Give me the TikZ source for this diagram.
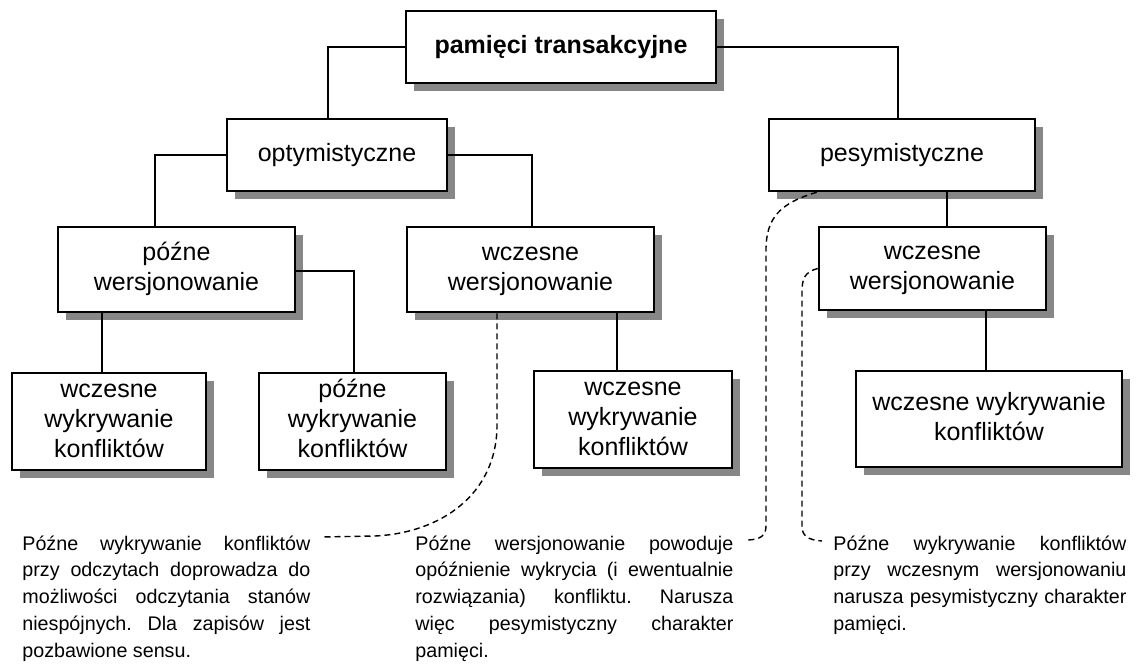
\documentclass[tikz,border=0pt]{standalone}
\usepackage{fontspec}
\setmainfont{Liberation Sans}
\usetikzlibrary{shadows}
\frenchspacing
\newcommand{\bxs}{\rule[-2.8pt]{0pt}{11.8pt}}
\begin{document}
\begin{tikzpicture}[x=0.5pt,y=-0.5pt,
  box/.style={draw=black, line width=1.3pt, fill=white, rectangle, inner sep=2pt,
    align=center, font=\fontsize{12.5}{15}\selectfont,
    drop shadow={shadow xshift=4pt, shadow yshift=-4pt, fill=black!47, opacity=1}},
  link/.style={line width=1pt},
  note/.style={dashed, dash pattern=on 3pt off 2pt, line width=0.7pt},
  para/.style={inner sep=0pt, anchor=base west, align=justify,
    font=\fontsize{9.85}{13.4}\selectfont}]
\useasboundingbox (0,0) rectangle (1141,668);

% boxes
\node[box, minimum width=155pt, minimum height=36pt] (top) at (561,47) {\bxs\bfseries pamięci transakcyjne};
\node[box, minimum width=110pt, minimum height=36pt] (opt) at (337,155) {\bxs optymistyczne};
\node[box, minimum width=133pt, minimum height=36pt] (pes) at (902,155) {\bxs pesymistyczne};
\node[box, minimum width=118.5pt, minimum height=42.5pt] (lv) at (176.5,269.5) {\bxs późne\\\bxs wersjonowanie};
\node[box, minimum width=123.5pt, minimum height=42.5pt] (ev) at (530.5,269.5) {\bxs wczesne\\\bxs wersjonowanie};
\node[box, minimum width=113.5pt, minimum height=41.5pt] (evr) at (932.5,268.5) {\bxs wczesne\\\bxs wersjonowanie};
\node[box, minimum width=97pt, minimum height=48.5pt] (b1) at (109,421.5) {\bxs wczesne\\\bxs wykrywanie\\\bxs konfliktów};
\node[box, minimum width=93.5pt, minimum height=48.5pt] (b2) at (352.5,421.5) {\bxs późne\\\bxs wykrywanie\\\bxs konfliktów};
\node[box, minimum width=99pt, minimum height=48.5pt] (b3) at (633,419.5) {\bxs wczesne\\\bxs wykrywanie\\\bxs konfliktów};
\node[box, minimum width=133pt, minimum height=48pt] (b4) at (989,419) {\bxs wczesne wykrywanie\\\bxs konfliktów};

% tree connectors
\draw[link] (top.west) -| ([xshift=-4.5pt]opt.north);
\draw[link] (top.east) -| ([xshift=-2pt]pes.north);
\draw[link] (opt.west) -| ([xshift=-10.75pt]lv.north);
\draw[link] (opt.east) -| ([xshift=0.75pt]ev.north);
\draw[link] ([xshift=22.5pt]pes.south) -- ([xshift=22.5pt]pes.south |- evr.north);
\draw[link] ([xshift=-37.25pt]lv.south) -- ([xshift=-37.25pt]lv.south |- b1.north);
\draw[link] ([yshift=-0.75pt]lv.east) -| ([xshift=0.75pt]b2.north);
\draw[link] ([xshift=43.25pt]ev.south) -- ([xshift=43.25pt]ev.south |- b3.north);
\draw[link] ([xshift=26.75pt]evr.south) -- ([xshift=26.75pt]evr.south |- b4.north);

% notes
\node[para, text width=144pt] (ta) at (22,550) {Późne wykrywanie konfliktów\linebreak przy odczytach doprowadza do\linebreak możliwości odczytania stanów\linebreak niespójnych. Dla zapisów jest\linebreak pozbawione sensu.};
\node[para, text width=159pt] (tb) at (415,550) {Późne wersjonowanie powoduje\linebreak opóźnienie wykrycia (i ewentualnie\linebreak rozwiązania) konfliktu. Narusza\linebreak więc pesymistyczny charakter\linebreak pamięci.};
\node[para, text width=146.5pt] (tc) at (833,550) {Późne wykrywanie konfliktów\linebreak przy wczesnym wersjonowaniu\linebreak narusza pesymistyczny charakter\linebreak pamięci.};

% dashed annotation links
\draw[note] ([xshift=-16.75pt]ev.south) -- (497,425) .. controls (497,495) and (440,533) .. (375,536) -- ([shift={(10,-13)}]ta.base east);
\draw[note] ([xshift=24.5pt]pes.south west) .. controls (780,203) and (766,218) .. (766,250) -- (766,526) .. controls (766,536) and (760,540) .. ([shift={(12,-10)}]tb.base east);
\draw[note] (evr.west) .. controls (805,272) and (802,278) .. (802,292) -- (802,526) .. controls (802,536) and (808,540) .. ([shift={(-11,-9)}]tc.base west);
\end{tikzpicture}
\end{document}
